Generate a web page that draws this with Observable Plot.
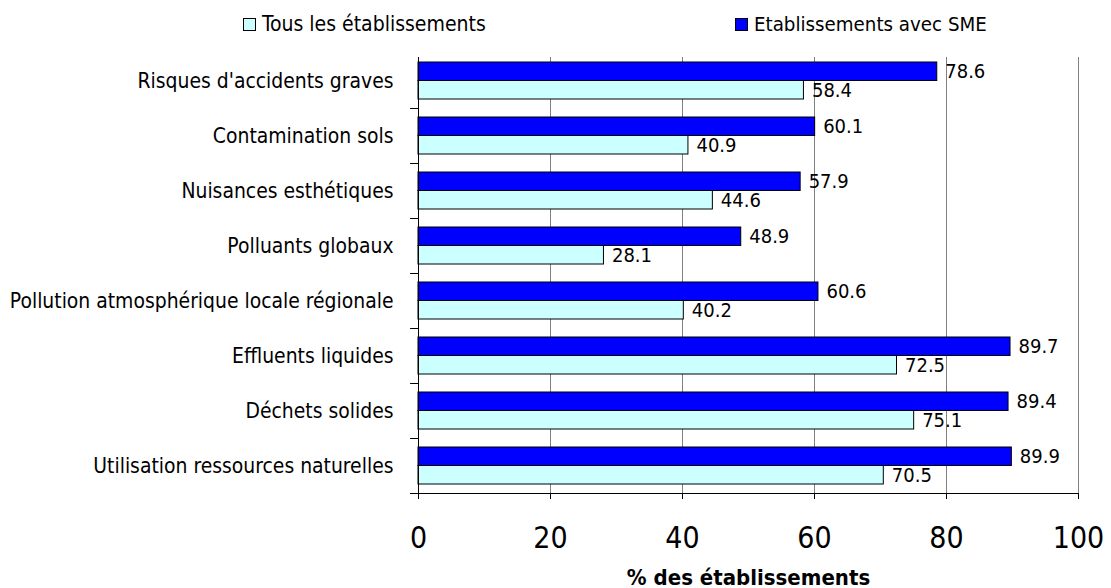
<!DOCTYPE html>
<html>
<head>
<meta charset="utf-8">
<script src="https://cdn.jsdelivr.net/npm/d3@7"></script>
<script src="https://cdn.jsdelivr.net/npm/@observablehq/plot@0.6"></script>
<style>
  html, body { margin: 0; padding: 0; background: #fff; }
  body { font-family: "DejaVu Sans Condensed", "DejaVu Sans", sans-serif; font-stretch: condensed; }
  #legend { position: relative; width: 1111px; height: 40px; font-size: 21px; color: #000; }
  .item { position: absolute; top: 11px; height: 26px; display: flex; align-items: center; white-space: nowrap; line-height: 26px; }
  .sw { width: 11px; height: 11px; border: 1px solid #000; margin-right: 6px; }
</style>
</head>
<body>
<div id="legend">
  <div class="item" style="left:243px"><span class="sw" style="background:#CCFFFF"></span>Tous les établissements</div>
  <div class="item" style="left:735px; font-size:20.3px"><span class="sw" style="background:#0000FF"></span>Etablissements avec SME</div>
</div>
<div id="chart"></div>
<script>
const categories = [
  "Risques d'accidents graves",
  "Contamination sols",
  "Nuisances esthétiques",
  "Polluants globaux",
  "Pollution atmosphérique locale régionale",
  "Effluents liquides",
  "Déchets solides",
  "Utilisation ressources naturelles"
];
const smeValues  = [78.6, 60.1, 57.9, 48.9, 60.6, 89.7, 89.4, 89.9];
const tousValues = [58.4, 40.9, 44.6, 28.1, 40.2, 72.5, 75.1, 70.5];
const xTicks = [0, 20, 40, 60, 80, 100];
const xLabel = "% des établissements";

const sme  = categories.map((c, i) => ({cat: c, value: smeValues[i]}));
const tous = categories.map((c, i) => ({cat: c, value: tousValues[i]}));

const font = "'DejaVu Sans Condensed', 'DejaVu Sans', sans-serif";

const chart = Plot.plot({
  width: 1111,
  height: 548,
  marginLeft: 418,
  marginRight: 33,
  marginTop: 17,
  marginBottom: 95,
  style: {fontFamily: font, fontStretch: "condensed", color: "#000", background: "#fff"},
  x: {domain: [0, 100]},
  y: {domain: categories, range: [13, 453], paddingInner: 0.327, paddingOuter: 0.1635},
  marks: [
    Plot.gridX(xTicks.slice(1), {stroke: "#808080", strokeOpacity: 1}),
    Plot.barX(sme, {x: "value", y: "cat", fill: "#0000FF", stroke: "#000", strokeWidth: 1, insetBottom: 18.5}),
    Plot.barX(tous, {x: "value", y: "cat", fill: "#CCFFFF", stroke: "#000", strokeWidth: 1, insetTop: 18.5}),
    Plot.text(sme, {x: "value", y: "cat", text: d => d.value.toFixed(1), textAnchor: "start", dx: 8, dy: -9.25, fontSize: 20, fill: "#000"}),
    Plot.text(tous, {x: "value", y: "cat", text: d => d.value.toFixed(1), textAnchor: "start", dx: 8, dy: 9.25, fontSize: 20, fill: "#000"}),
    Plot.ruleX([0], {stroke: "#000"}),
    Plot.ruleY(categories, {y: d => d, dy: 27.5, x1: -1.2, x2: 0, stroke: "#000"}),
    Plot.ruleY([categories[categories.length - 1]], {y: d => d, dy: 27.5, x1: -1.2, x2: 100, stroke: "#000"}),
    Plot.axisX({ticks: xTicks, tickSize: 6, tickPadding: 27, fontSize: 30, label: null, stroke: "#000"}),
    Plot.axisY({tickSize: 0, tickPadding: 25, fontSize: 20.9, label: null}),
    Plot.text([xLabel], {frameAnchor: "bottom", dy: 91, fontSize: 22, fontWeight: "bold", fill: "#000"})
  ]
});
document.getElementById("chart").appendChild(chart);
</script>
</body>
</html>
